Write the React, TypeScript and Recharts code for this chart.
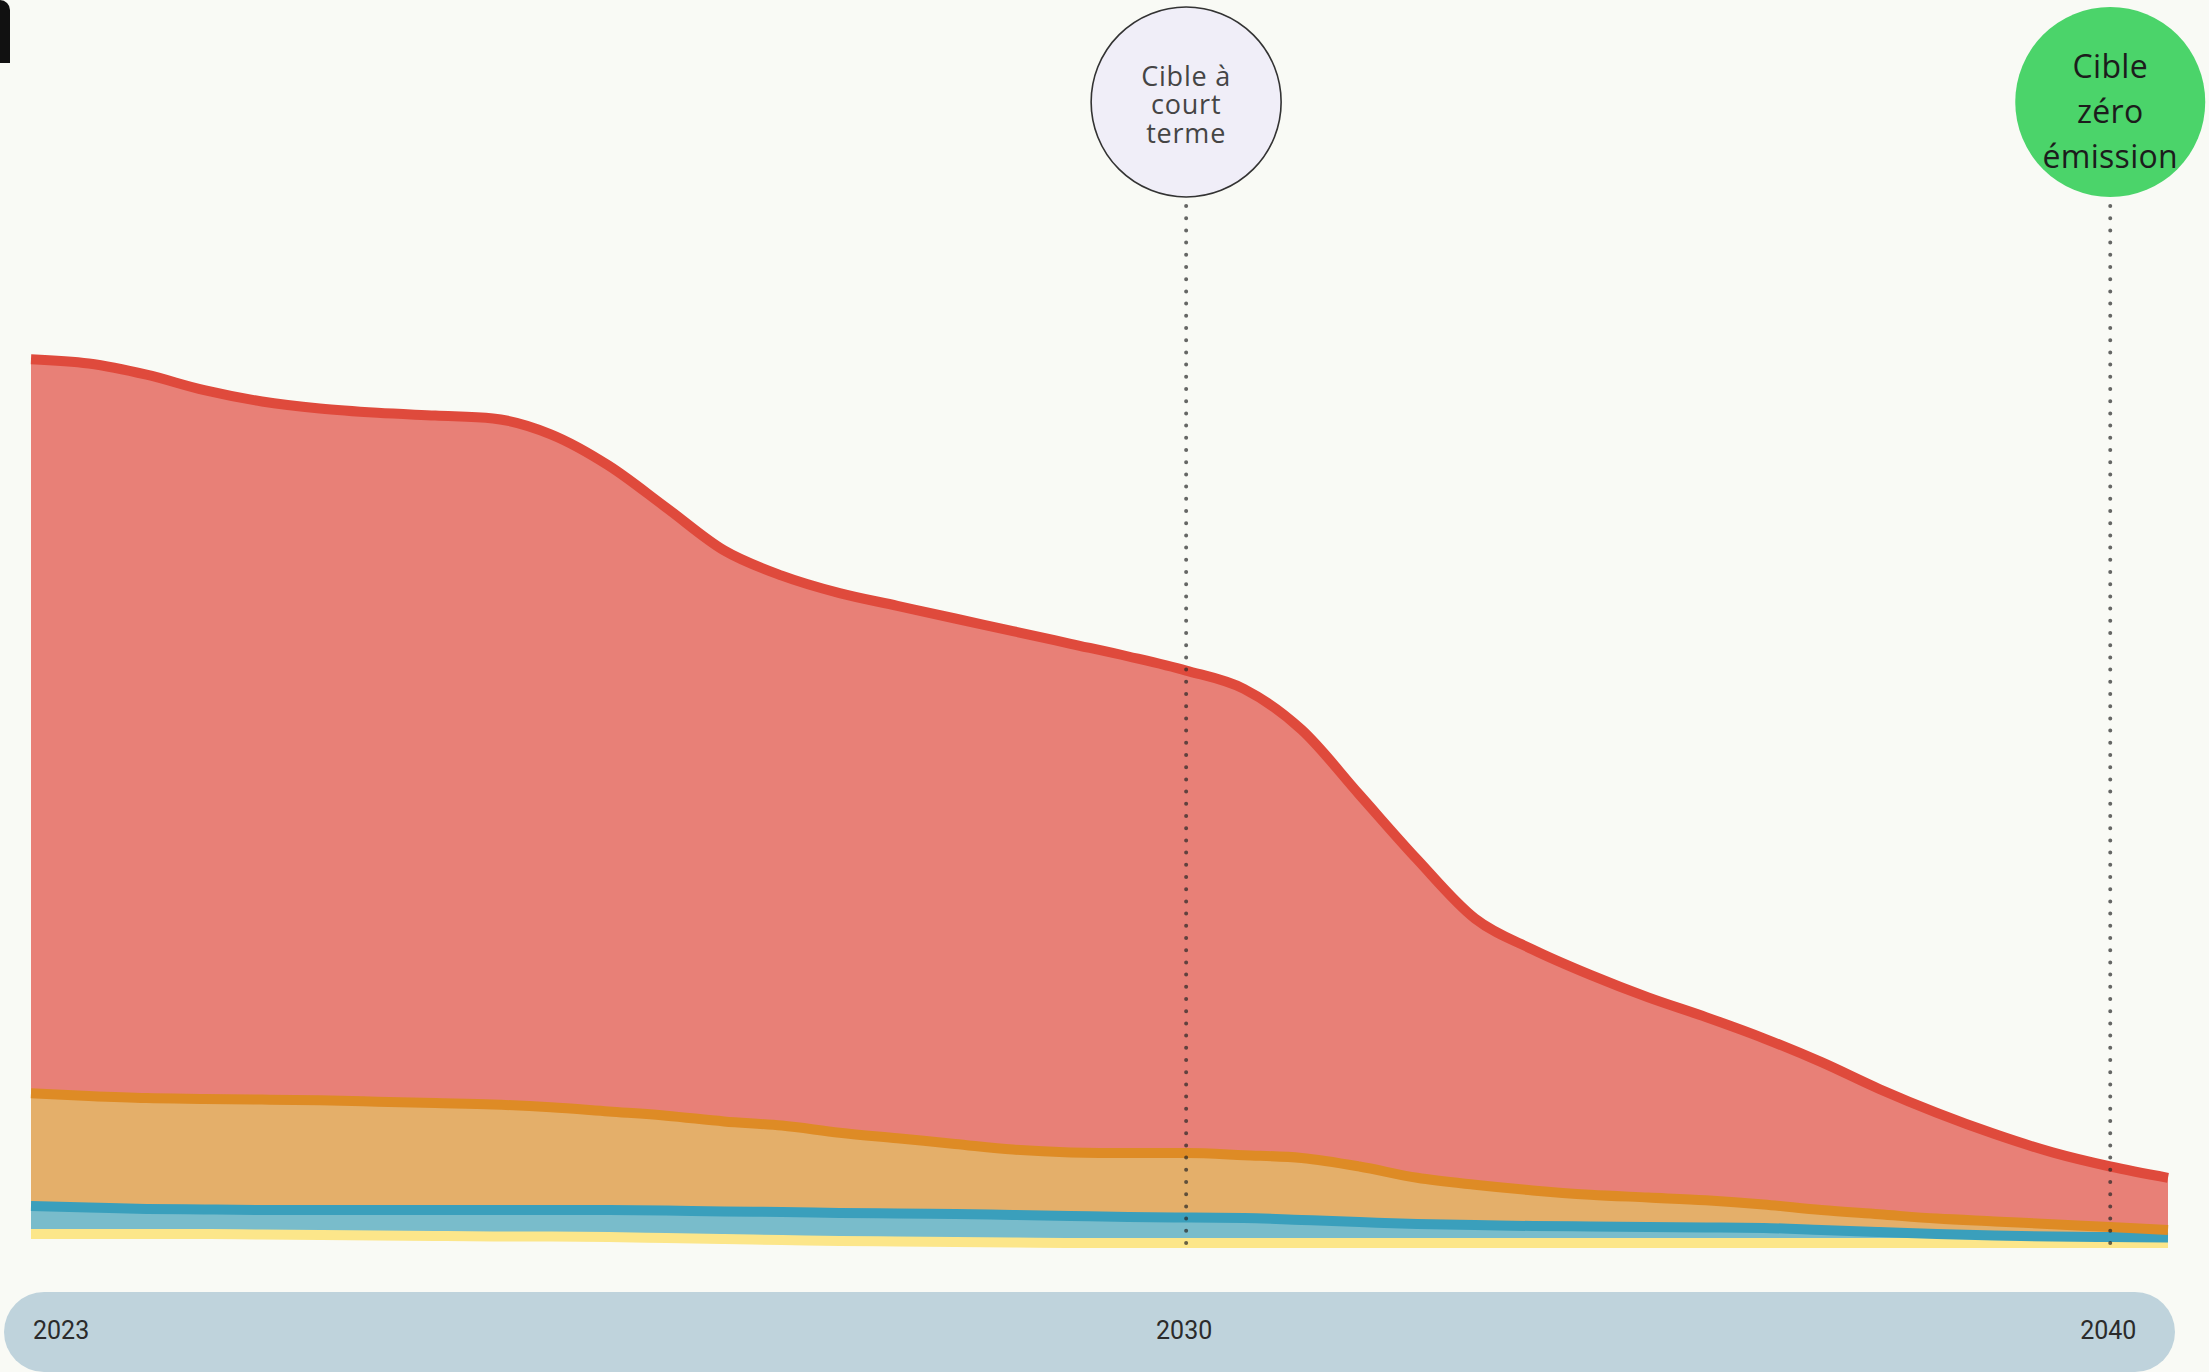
import React from 'react';
import { AreaChart, Area, XAxis, YAxis, ReferenceLine } from 'recharts';

// Position index along the horizontal axis (evenly spaced sample points)
const steps = [
  0, 1, 2, 3, 4, 5, 6, 7, 8, 9, 10, 11, 12, 13, 14, 15, 16, 17, 18, 19,
  20, 21, 22, 23, 24, 25, 26, 27, 28, 29, 30, 31, 32, 33, 34, 35, 36, 37,
];

// Layer values (stacked bottom to top)
const yellowValues = [
  0.9, 0.9, 0.9, 0.9, 0.85, 0.8, 0.75, 0.7, 0.65, 0.65, 0.6, 0.5, 0.4, 0.3, 0.2, 0.15, 0.1, 0.05, 0, 0,
  0, 0, 0, 0, 0, 0, 0, 0, 0, 0, 0, 0, 0, 0, 0, 0, 0, 0,
];
const blueValues = [
  2.8, 2.65, 2.5, 2.45, 2.45, 2.5, 2.55, 2.6, 2.65, 2.65, 2.7, 2.75, 2.75, 2.8, 2.8, 2.8, 2.8, 2.75, 2.7, 2.6,
  2.55, 2.5, 2.3, 2.1, 1.9, 1.8, 1.7, 1.65, 1.6, 1.55, 1.5, 1.3, 1.1, 0.9, 0.75, 0.65, 0.6, 0.55,
];
const orangeValues = [
  11.28, 11.15, 11.09, 11.06, 11.04, 10.97, 10.83, 10.69, 10.55, 10.27, 9.85, 9.48, 9.01, 8.64, 8.03, 7.52, 7.01, 6.54, 6.36, 6.39,
  6.44, 6.28, 6.2, 5.55, 4.62, 4.02, 3.56, 3.18, 2.95, 2.72, 2.35, 1.99, 1.77, 1.54, 1.41, 1.23, 1.0, 0.76,
];
const redValues = [
  73.4, 73.25, 72.34, 70.87, 69.81, 69.18, 68.89, 68.75, 68.6, 67.3, 64.6, 60.8, 57.1, 55.0, 53.96, 53.25, 52.54, 51.85, 50.86, 49.66,
  48.25, 46.63, 42.82, 37.19, 31.84, 26.63, 24.09, 21.98, 20.01, 18.32, 16.62, 14.79, 12.53, 10.57, 8.73, 7.18, 6.05, 5.21,
];

const tickSteps = [0, 20, 36];
const tickYears = ['2023', '2030', '2040'];

const nearTermStep = 20;
const nearTermLines = ['Cible à', 'court', 'terme'];
const netZeroStep = 36;
const netZeroLines = ['Cible', 'zéro', 'émission'];

const data = steps.map((step, i) => ({
  step,
  yellow: yellowValues[i],
  blue: blueValues[i],
  orange: orangeValues[i],
  red: redValues[i],
}));

const COLORS = {
  bg: '#f9faf5',
  yellowStroke: '#fce68a',
  blueFill: '#79bccb',
  blueStroke: '#3a9fbc',
  orangeFill: '#e4af6a',
  orangeStroke: '#de8b25',
  redFill: '#e88077',
  redStroke: '#df4a3c',
  pill: '#bfd3dc',
};

const YearTick = (props: any) => {
  const { x, y, payload } = props;
  const idx = tickSteps.indexOf(payload.value);
  const first = idx === 0;
  return (
    <text
      x={first ? x + 2 : x - 2}
      y={y}
      dy={96}
      textAnchor={first ? 'start' : 'middle'}
      fontFamily="Roboto, sans-serif"
      fontSize={25}
      fill="#2b2b2b"
    >
      {tickYears[idx]}
    </text>
  );
};

const makeBubble = (
  lines: string[],
  fill: string,
  stroke: string,
  textColor: string,
  fontSize: number,
  lineHeight: number,
  textOffset: number,
  letterSpacing: number
) => (props: any) => {
  const vb = props.viewBox || {};
  const cx = vb.x;
  const cy = vb.y - 101;
  const startY = cy + textOffset - ((lines.length - 1) * lineHeight) / 2;
  return (
    <g>
      <circle cx={cx} cy={cy} r={95} fill={fill} stroke={stroke} strokeWidth={stroke === 'none' ? 0 : 1.6} />
      <text
        x={cx}
        textAnchor="middle"
        fontFamily="'Open Sans', sans-serif"
        fontSize={fontSize}
        fill={textColor}
        letterSpacing={letterSpacing}
        dominantBaseline="central"
      >
        {lines.map((l, i) => (
          <tspan key={i} x={cx} y={startY + i * lineHeight}>
            {l}
          </tspan>
        ))}
      </text>
    </g>
  );
};

const NearTermBubble = makeBubble(nearTermLines, '#f0eef8', '#333333', '#454545', 27, 28.5, 1, 0.8);
const NetZeroBubble = makeBubble(netZeroLines, '#4bd46a', 'none', '#1c1c1c', 32, 45, 8, 0.3);

export default function App() {
  return (
    <div
      style={{
        position: 'absolute',
        left: 0,
        top: 0,
        width: 2209,
        height: 1372,
        background: COLORS.bg,
        overflow: 'hidden',
      }}
    >
      <div
        style={{
          position: 'absolute',
          left: 0,
          top: 0,
          width: 10,
          height: 63,
          background: '#111111',
          borderTopRightRadius: 12,
        }}
      />
      <div
        style={{
          position: 'absolute',
          left: 4,
          top: 1292,
          width: 2171,
          height: 80,
          borderRadius: 40,
          background: COLORS.pill,
        }}
      />
      <div style={{ position: 'absolute', left: 0, top: 0 }}>
        <AreaChart
          width={2209}
          height={1372}
          data={data}
          margin={{ top: 203, right: 41, bottom: 99, left: 31 }}
        >
          <XAxis
            dataKey="step"
            type="number"
            domain={[0, 37]}
            ticks={tickSteps}
            tick={<YearTick />}
            axisLine={false}
            tickLine={false}
            tickSize={0}
            tickMargin={0}
            height={30}
            interval={0}
          />
          <YAxis hide type="number" domain={[0, 104]} />

          <Area type="monotone" dataKey="yellow" stackId="fill" fill="none" stroke="none" isAnimationActive={false} dot={false} activeDot={false} />
          <Area type="monotone" dataKey="blue" stackId="fill" fill={COLORS.blueFill} fillOpacity={1} stroke="none" isAnimationActive={false} dot={false} activeDot={false} />
          <Area type="monotone" dataKey="orange" stackId="fill" fill={COLORS.orangeFill} fillOpacity={1} stroke="none" isAnimationActive={false} dot={false} activeDot={false} />
          <Area type="monotone" dataKey="red" stackId="fill" fill={COLORS.redFill} fillOpacity={1} stroke="none" isAnimationActive={false} dot={false} activeDot={false} />

          <Area type="monotone" dataKey="yellow" stackId="edge" fill="none" stroke={COLORS.yellowStroke} strokeWidth={10} isAnimationActive={false} dot={false} activeDot={false} />
          <Area type="monotone" dataKey="blue" stackId="edge" fill="none" stroke={COLORS.blueStroke} strokeWidth={10} isAnimationActive={false} dot={false} activeDot={false} />
          <Area type="monotone" dataKey="orange" stackId="edge" fill="none" stroke={COLORS.orangeStroke} strokeWidth={10} isAnimationActive={false} dot={false} activeDot={false} />
          <Area type="monotone" dataKey="red" stackId="edge" fill="none" stroke={COLORS.redStroke} strokeWidth={10} isAnimationActive={false} dot={false} activeDot={false} />

          <ReferenceLine
            x={nearTermStep}
            stroke="#262626"
            strokeOpacity={0.7}
            strokeWidth={4}
            strokeDasharray="0 12.2"
            strokeLinecap="round"
            label={NearTermBubble}
          />
          <ReferenceLine
            x={netZeroStep}
            stroke="#262626"
            strokeOpacity={0.7}
            strokeWidth={4}
            strokeDasharray="0 12.2"
            strokeLinecap="round"
            label={NetZeroBubble}
          />
        </AreaChart>
      </div>
    </div>
  );
}
